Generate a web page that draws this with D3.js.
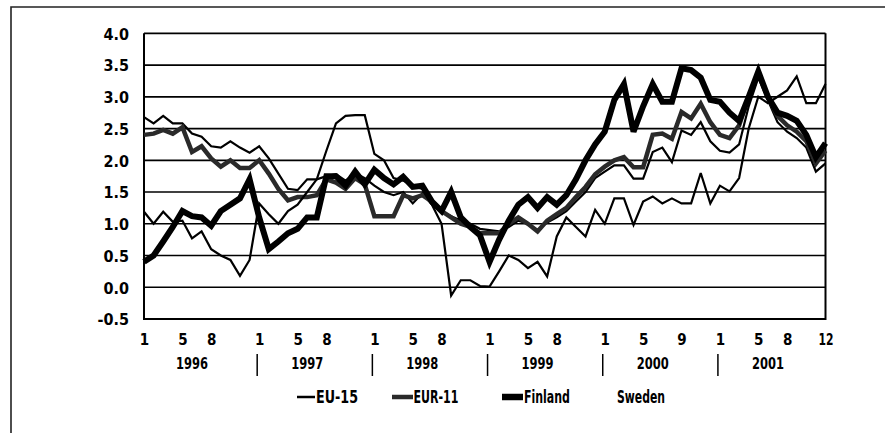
<!DOCTYPE html>
<html>
<head>
<meta charset="utf-8">
<script src="https://cdn.jsdelivr.net/npm/d3@7"></script>
<style>
  html, body { margin: 0; padding: 0; background: #fff; }
  svg { display: block; }
  text { font-family: "DejaVu Sans Condensed", "Liberation Sans Narrow", "Liberation Sans", sans-serif; font-weight: bold; fill: #000; }
</style>
</head>
<body>
<svg id="chart" width="885" height="433"></svg>
<script>
// ---------- data ----------
const years = ["1996", "1997", "1998", "1999", "2000", "2001"];
const months = years.flatMap(y => d3.range(1, 13).map(m => y + "-" + m));

const tickMonths = ["1996-1","1996-5","1996-8","1997-1","1997-5","1997-8","1998-1","1998-5","1998-8",
                    "1999-1","1999-5","1999-8","2000-1","2000-5","2000-9","2001-1","2001-5","2001-8","2001-12"];
const yTicks = [-0.5, 0, 0.5, 1, 1.5, 2, 2.5, 3, 3.5, 4];

const eu15 = [
  2.68, 2.58, 2.70, 2.58, 2.58, 2.42, 2.37, 2.22, 2.20, 2.30, 2.20, 2.12,
  2.22, 2.03, 1.79, 1.55, 1.53, 1.70, 1.70, 1.75, 1.78, 1.68, 1.80, 1.72,
  1.60, 1.50, 1.45, 1.50, 1.32, 1.48, 1.30, 1.20, 1.12, 1.05, 1.00, 0.92,
  0.90, 0.88, 0.95, 1.05, 1.00, 0.90, 1.02, 1.10, 1.20, 1.35, 1.50, 1.72,
  1.82, 1.92, 1.92, 1.71, 1.71, 2.13, 2.20, 1.97, 2.47, 2.40, 2.60, 2.30,
  2.15, 2.12, 2.25, 2.85, 3.30, 2.95, 2.60, 2.45, 2.35, 2.20, 1.82, 1.95
];
const eur11 = [
  2.40, 2.42, 2.48, 2.42, 2.52, 2.13, 2.22, 2.03, 1.90, 2.00, 1.88, 1.88,
  2.00, 1.79, 1.55, 1.37, 1.42, 1.42, 1.45, 1.70, 1.65, 1.55, 1.72, 1.62,
  1.12, 1.12, 1.12, 1.45, 1.40, 1.45, 1.35, 1.20, 1.10, 1.00, 0.95, 0.85,
  0.85, 0.85, 1.00, 1.10, 1.00, 0.88, 1.05, 1.15, 1.25, 1.42, 1.58, 1.78,
  1.90, 2.00, 2.05, 1.89, 1.89, 2.40, 2.42, 2.34, 2.76, 2.66, 2.89, 2.60,
  2.40, 2.35, 2.55, 3.00, 3.38, 3.00, 2.70, 2.55, 2.45, 2.30, 1.95, 2.15
];
const finland = [
  0.40, 0.50, 0.72, 0.95, 1.20, 1.12, 1.10, 0.97, 1.20, 1.30, 1.40, 1.70,
  1.10, 0.60, 0.72, 0.85, 0.92, 1.10, 1.10, 1.75, 1.75, 1.60, 1.82, 1.62,
  1.85, 1.72, 1.62, 1.74, 1.58, 1.60, 1.35, 1.20, 1.50, 1.10, 0.95, 0.82,
  0.40, 0.75, 1.05, 1.30, 1.42, 1.25, 1.42, 1.30, 1.45, 1.70, 2.00, 2.25,
  2.45, 2.95, 3.20, 2.45, 2.85, 3.20, 2.92, 2.92, 3.45, 3.42, 3.30, 2.95,
  2.92, 2.75, 2.62, 3.00, 3.40, 3.00, 2.75, 2.70, 2.62, 2.40, 2.05, 2.27
];
const sweden = [
  1.19, 1.00, 1.19, 1.03, 1.05, 0.77, 0.88, 0.60, 0.50, 0.43, 0.18, 0.43,
  1.32, 1.15, 1.00, 1.20, 1.30, 1.50, 1.70, 2.15, 2.58, 2.70, 2.71, 2.71,
  2.10, 2.00, 1.72, 1.68, 1.60, 1.55, 1.30, 1.00, -0.13, 0.11, 0.11, 0.02,
  0.01, 0.25, 0.50, 0.43, 0.30, 0.40, 0.17, 0.80, 1.10, 0.95, 0.80, 1.22,
  1.00, 1.40, 1.40, 0.98, 1.35, 1.43, 1.32, 1.40, 1.32, 1.32, 1.80, 1.32,
  1.60, 1.51, 1.72, 2.50, 3.00, 2.90, 3.00, 3.10, 3.32, 2.90, 2.90, 3.20
];

const seriesNames = ["EU-15", "EUR-11", "Finland", "Sweden"];
const seriesValues = [eu15, eur11, finland, sweden];

// ---------- styles ----------
const styles = {
  "EU-15":   { color: "#000",    width: 2.2, legend: 2.5, textW: 42 },
  "EUR-11":  { color: "#2a2a2a", width: 4.5, legend: 4.5, textW: 45 },
  "Finland": { color: "#000",    width: 6,   legend: 6.5, textW: 46 },
  "Sweden":  { color: "#000",    width: 2.2, legend: 0,   textW: 48 }
};

// ---------- layout ----------
const svg = d3.select("#chart");
const plot = { left: 144, right: 825.5, top: 33.3, bottom: 319 };

const x = d3.scalePoint().domain(months).range([plot.left, plot.right]);
const y = d3.scaleLinear().domain([-0.5, 4]).range([plot.bottom, plot.top]);

// outer frame
svg.append("path")
  .attr("d", "M11,433 V7 H885")
  .attr("fill", "none").attr("stroke", "#222").attr("stroke-width", 1.6);

// gridlines
svg.append("g")
  .selectAll("line").data(yTicks).join("line")
  .attr("x1", plot.left).attr("x2", plot.right)
  .attr("y1", d => y(d)).attr("y2", d => y(d))
  .attr("stroke", "#000").attr("stroke-width", 1.7);

// plot frame (left, right, bottom)
svg.append("path")
  .attr("d", `M${plot.left},${plot.top} V${plot.bottom} H${plot.right} V${plot.top}`)
  .attr("fill", "none").attr("stroke", "#000").attr("stroke-width", 2);

// y axis labels
const yAxis = d3.axisLeft(y).tickValues(yTicks).tickSize(0).tickPadding(15)
  .tickFormat(v => v.toFixed(1));
const gy = svg.append("g").attr("transform", `translate(${plot.left},0)`).call(yAxis);
gy.select(".domain").remove();
gy.selectAll("text").style("font-size", "16px").attr("dy", "0.36em")
  .style("font-family", null);

// x axis month labels
const monthLabel = m => m.split("-")[1];
const xAxis = d3.axisBottom(x).tickValues(tickMonths).tickSize(0).tickPadding(15)
  .tickFormat(monthLabel);
const gx = svg.append("g").attr("transform", `translate(0,${plot.bottom})`).call(xAxis);
gx.select(".domain").remove();
gx.selectAll("text").style("font-size", "15px").style("font-family", null)
  .attr("textLength", d => monthLabel(d).length > 1 ? 15 : null)
  .attr("lengthAdjust", "spacingAndGlyphs");

// year labels and separators
svg.append("g").selectAll("text").data(years).join("text")
  .attr("x", d => x(d + "-6"))
  .attr("y", 369)
  .attr("text-anchor", "middle")
  .attr("textLength", 32)
  .attr("lengthAdjust", "spacingAndGlyphs")
  .style("font-size", "16px")
  .text(d => d);
svg.append("g").selectAll("line").data(years.slice(1)).join("line")
  .attr("x1", d => x(d + "-1") - 2).attr("x2", d => x(d + "-1") - 2)
  .attr("y1", 354).attr("y2", 376)
  .attr("stroke", "#000").attr("stroke-width", 1.5);

// series lines
const line = d3.line().x((d, i) => x(months[i])).y(d => y(d));
svg.append("g").selectAll("path").data(seriesNames).join("path")
  .attr("d", (n, k) => line(seriesValues[k]))
  .attr("fill", "none")
  .attr("stroke", n => styles[n].color)
  .attr("stroke-width", n => styles[n].width)
  .attr("stroke-linejoin", "miter")
  .attr("stroke-miterlimit", 3);

// legend
const legendPos = [
  { sx: 297, ex: 315, tx: 316 },
  { sx: 392, ex: 413, tx: 413.5 },
  { sx: 502, ex: 523, tx: 524 },
  { sx: 597, ex: 597, tx: 617 }
];
const lg = svg.append("g");
seriesNames.forEach((n, k) => {
  const p = legendPos[k];
  if (styles[n].legend > 0) {
    lg.append("line").attr("x1", p.sx).attr("x2", p.ex).attr("y1", 397).attr("y2", 397)
      .attr("stroke", styles[n].color).attr("stroke-width", styles[n].legend);
  }
  lg.append("text").attr("x", p.tx).attr("y", 403)
    .attr("textLength", styles[n].textW).attr("lengthAdjust", "spacingAndGlyphs")
    .style("font-size", "17px").text(n);
});
</script>
</body>
</html>
